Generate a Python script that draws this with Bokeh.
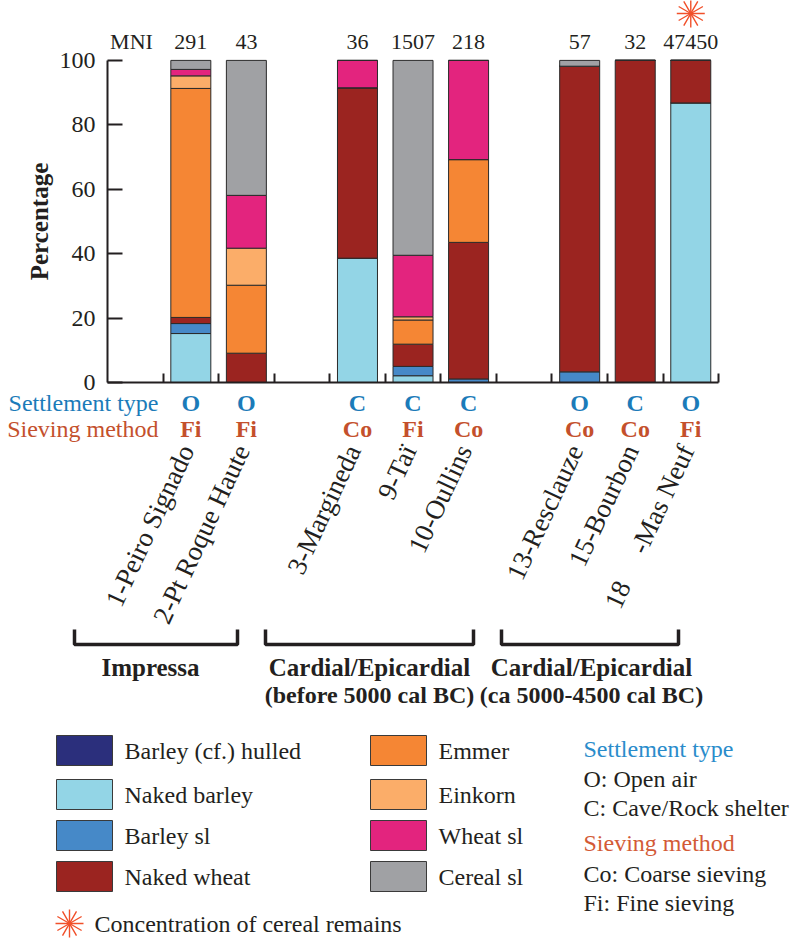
from bokeh.plotting import figure
from bokeh.models import Range1d, FixedTicker, ColumnDataSource
from bokeh.embed import file_html
from bokeh.resources import INLINE
from bokeh.core.properties import value

# ---------------- data ----------------
sites = ["1-Peiro Signado", "2-Pt Roque Haute", "3-Margineda", "9-Taï", "10-Oullins",
         "13-Resclauze", "15-Bourbon", "18\u2003 -Mas Neuf"]
slots = [1, 2, 4, 5, 6, 8, 9, 10]          # slot of each site (empty slots separate the groups)
mni = ["291", "43", "36", "1507", "218", "57", "32", "47450"]
settlement = ["O", "O", "C", "C", "C", "O", "C", "O"]
sieving = ["Fi", "Fi", "Co", "Fi", "Co", "Co", "Co", "Fi"]
concentration = [False, False, False, False, False, False, False, True]

taxa = ["Barley (cf.) hulled", "Naked barley", "Barley sl", "Naked wheat",
        "Emmer", "Einkorn", "Wheat sl", "Cereal sl"]
barley_hulled = [0, 0, 0, 0, 0, 0, 0, 0]
naked_barley = [15.2, 0, 38.6, 2.1, 0, 0, 0, 86.8]
barley_sl = [3.1, 0, 0, 2.9, 1.1, 3.3, 0, 0]
naked_wheat = [1.9, 9.1, 52.9, 6.9, 42.4, 94.9, 100, 13.2]
emmer = [71.1, 21.1, 0, 7.5, 25.7, 0, 0, 0]
einkorn = [3.9, 11.5, 0, 1.0, 0, 0, 0, 0]
wheat_sl = [2.0, 16.4, 8.5, 19.1, 30.8, 0, 0, 0]
cereal_sl = [2.8, 41.9, 0, 60.5, 0, 1.8, 0, 0]

group_names = ["Impressa", "Cardial/Epicardial", "Cardial/Epicardial"]
group_periods = ["", "(before 5000 cal BC)", "(ca 5000-4500 cal BC)"]

settlement_key = ["O: Open air", "C: Cave/Rock shelter"]
sieving_key = ["Co: Coarse sieving", "Fi: Fine sieving"]

# ---------------- styles / layout ----------------
colors = ["#2b2f7c", "#93d5e6", "#4689c8", "#9b2420", "#f58634", "#fbad69", "#e3247e", "#a0a1a4"]
BLUE = "#1b7bb9"
RED = "#c4502c"
STAR = "#f1502a"
INK = "#231f20"
SERIF = value("Liberation Serif")

W, H = 800, 940
AX_LEFT, AX_ZERO = 107, 382          # pixel position of the axes
PX_SLOT, PX_PCT = 55.55, 3.221       # pixels per slot and per percent


def X(px):
    return -0.5 + (px - AX_LEFT) / PX_SLOT


def Y(py):
    return (AX_ZERO - py) / PX_PCT


keys = ["barley_hulled", "naked_barley", "barley_sl", "naked_wheat", "emmer", "einkorn", "wheat_sl", "cereal_sl"]
src = ColumnDataSource(dict(x=slots, barley_hulled=barley_hulled, naked_barley=naked_barley,
                            barley_sl=barley_sl, naked_wheat=naked_wheat, emmer=emmer,
                            einkorn=einkorn, wheat_sl=wheat_sl, cereal_sl=cereal_sl,
                            site=sites, mni=mni, settlement=settlement, sieving=sieving))

p = figure(width=W, height=H, x_range=Range1d(X(0), X(W)), y_range=Range1d(Y(H), Y(0)),
           output_backend="svg", toolbar_location=None, min_border=0)
p.grid.visible = False
p.outline_line_color = None

p.vbar_stack(keys, x="x", width=0.72, source=src, fill_color=colors,
             line_color="#2a2a2a", line_width=1)

# axes, anchored at the chart's origin
xticks = [0.5 + i for i in range(11)]
p.xaxis.fixed_location = 0
p.xaxis.bounds = (-0.5, 10.5)
p.xaxis.ticker = FixedTicker(ticks=xticks)
p.xaxis.major_label_overrides = {t: "" for t in xticks}
p.xaxis.major_tick_in = 9
p.xaxis.major_tick_out = 0
p.xaxis.minor_tick_line_color = None
p.xaxis.axis_line_width = 2
p.xaxis.major_tick_line_width = 2
p.xaxis.axis_line_color = INK
p.xaxis.major_tick_line_color = INK

p.yaxis.fixed_location = -0.5
p.yaxis.bounds = (0, 100)
p.yaxis.ticker = FixedTicker(ticks=[0, 20, 40, 60, 80, 100])
p.yaxis.major_tick_in = 15
p.yaxis.major_tick_out = 0
p.yaxis.minor_tick_line_color = None
p.yaxis.axis_line_width = 2
p.yaxis.major_tick_line_width = 2
p.yaxis.axis_line_color = INK
p.yaxis.major_tick_line_color = INK
p.yaxis.major_label_standoff = 12
p.yaxis.major_label_text_font = "Liberation Serif"
p.yaxis.major_label_text_font_size = "24px"
p.yaxis.major_label_text_color = INK
p.yaxis.axis_label = "Percentage"
p.yaxis.axis_label_text_font = "Liberation Serif"
p.yaxis.axis_label_text_font_style = "bold"
p.yaxis.axis_label_text_font_size = "25px"
p.yaxis.axis_label_text_color = INK
p.yaxis.axis_label_standoff = 4

txt = dict(text_font=SERIF, text_color=INK)

# MNI row
p.text(x=[X(131)], y=[Y(41)], text=["MNI"], text_font_size="22px",
       text_align="center", text_baseline="middle", **txt)
p.text(x="x", y=Y(41), text="mni", source=src, text_font_size="22px",
       text_align="center", text_baseline="middle", **txt)

# concentration star
star_x = [s for s, c in zip(slots, concentration) if c]
for ang in (0, 30, 60):
    p.scatter(x=star_x, y=[Y(13)] * len(star_x), marker="cross", size=28, angle=ang,
              angle_units="deg", line_color=STAR, line_width=1.4)

# settlement / sieving rows
p.text(x="x", y=Y(402), text="settlement", source=src, text_font=SERIF,
       text_font_size="24px", text_font_style="bold", text_color=BLUE,
       text_align="center", text_baseline="middle")
p.text(x="x", y=Y(428), text="sieving", source=src, text_font=SERIF,
       text_font_size="24px", text_font_style="bold", text_color=RED,
       text_align="center", text_baseline="middle")
p.text(x=[X(158)], y=[Y(402)], text=["Settlement type"], text_font=SERIF,
       text_font_size="24px", text_color=BLUE, text_align="right", text_baseline="middle")
p.text(x=[X(158)], y=[Y(428)], text=["Sieving method"], text_font=SERIF,
       text_font_size="24px", text_color=RED, text_align="right", text_baseline="middle")

# rotated site names
p.text(x="x", y=Y(446), text="site", source=src, x_offset=-4, angle=65, angle_units="deg",
       text_font_size="27px", text_align="right", text_baseline="middle", **txt)

# cultural groups
br_left = [74, 265, 501]
br_right = [237, 473, 678]
p.multi_line(xs=[[X(a), X(a), X(b), X(b)] for a, b in zip(br_left, br_right)],
             ys=[[Y(629), Y(644), Y(644), Y(629)]] * 3, line_color=INK, line_width=3.5)
g_cx = [X(150), X(369), X(591)]
p.text(x=g_cx, y=[Y(667)] * 3, text=group_names, text_font_size="25px",
       text_font_style="bold", text_align="center", text_baseline="middle", **txt)
p.text(x=g_cx, y=[Y(694)] * 3, text=group_periods, text_font_size="24px",
       text_font_style="bold", text_align="center", text_baseline="middle", **txt)

# legend swatches
sw_px = [84] * 4 + [398] * 4
sw_py = [750, 794, 835, 876] * 2
p.rect(x=[X(v) for v in sw_px], y=[Y(v) for v in sw_py], width=56 / PX_SLOT, height=30 / PX_PCT,
       fill_color=colors, line_color="#3a3a3a", line_width=1)
p.text(x=[X(v + 40) for v in sw_px], y=[Y(v) for v in sw_py], text=taxa, text_font_size="24px",
       text_align="left", text_baseline="middle", **txt)

# key to the codes
KX = X(583)
p.text(x=[KX], y=[Y(748)], text=["Settlement type"], text_font=SERIF, text_font_size="24px",
       text_baseline="middle", text_color="#2a8ccb")
p.text(x=[KX, KX], y=[Y(778), Y(807)], text=settlement_key, text_font_size="24px",
       text_baseline="middle", **txt)
p.text(x=[KX], y=[Y(842)], text=["Sieving method"], text_font=SERIF, text_font_size="24px",
       text_baseline="middle", text_color="#d35a36")
p.text(x=[KX, KX], y=[Y(873), Y(902)], text=sieving_key, text_font_size="24px",
       text_baseline="middle", **txt)

# star key
for ang in (0, 30, 60):
    p.scatter(x=[X(69)], y=[Y(923)], marker="cross", size=28, angle=ang, angle_units="deg",
              line_color=STAR, line_width=1.4)
p.text(x=[X(94)], y=[Y(923)], text=["Concentration of cereal remains"],
       text_font_size="24px", text_baseline="middle", **txt)

open("out.html", "w").write(file_html(p, INLINE))
